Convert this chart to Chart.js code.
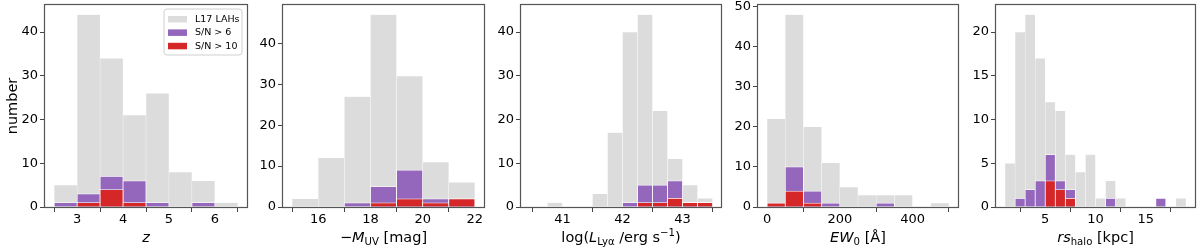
<!DOCTYPE html>
<html>
<head>
<meta charset="utf-8">
<script src="https://cdn.jsdelivr.net/npm/chart.js@4.4.1/dist/chart.umd.min.js"></script>
<style>
  body { margin: 0; background: #fff; }
  #wrap { position: relative; width: 1200px; height: 249px; }
  #wrap canvas { position: absolute; top: 0; }
</style>
</head>
<body>
<div id="wrap"></div>
<script>
// panel 1 : redshift
var zEdges = [2.5, 3, 3.5, 4, 4.5, 5, 5.5, 6, 6.5];
var zAll   = [5, 44, 34, 21, 26, 8, 6, 1];
var zSN6   = [1, 3, 7, 6, 1, 0, 1, 0];
var zSN10  = [0, 1, 4, 1, 0, 0, 0, 0];
var zTicks = [3, 4, 5, 6];

// panel 2 : -M_UV
var muvEdges = [15, 16, 17, 18, 19, 20, 21, 22];
var muvAll   = [2, 12, 27, 47, 32, 11, 6];
var muvSN6   = [0, 0, 1, 5, 9, 2, 2];
var muvSN10  = [0, 0, 0, 1, 2, 1, 2];
var muvTicks = [16, 18, 20, 22];

// panel 3 : log L_Lya
var lyaEdges = [40.75, 41, 41.25, 41.5, 41.75, 42, 42.25, 42.5, 42.75, 43, 43.25, 43.5];
var lyaAll   = [1, 0, 0, 3, 17, 40, 44, 22, 11, 5, 2];
var lyaSN6   = [0, 0, 0, 0, 0, 1, 5, 5, 6, 1, 1];
var lyaSN10  = [0, 0, 0, 0, 0, 0, 1, 1, 2, 1, 1];
var lyaTicks = [41, 42, 43];

// panel 4 : EW0
var ewEdges = [0, 50, 100, 150, 200, 250, 300, 350, 400, 450, 500];
var ewAll   = [22, 48, 20, 11, 5, 3, 3, 3, 0, 1];
var ewSN6   = [1, 10, 4, 1, 0, 0, 1, 0, 0, 0];
var ewSN10  = [1, 4, 1, 0, 0, 0, 0, 0, 0, 0];
var ewTicks = [0, 200, 400];

// panel 5 : rs_halo
var rsEdges = [1, 2, 3, 4, 5, 6, 7, 8, 9, 10, 11, 12, 13, 14, 15, 16, 17, 18, 19];
var rsAll   = [5, 20, 22, 17, 12, 11, 6, 4, 6, 1, 3, 1, 0, 0, 0, 1, 0, 1];
var rsSN6   = [0, 1, 2, 3, 6, 3, 2, 0, 0, 0, 1, 0, 0, 0, 0, 1, 0, 0];
var rsSN10  = [0, 0, 0, 0, 3, 2, 1, 0, 0, 0, 0, 0, 0, 0, 0, 0, 0, 0];
var rsTicks = [5, 10, 15];

var yTicks40 = [0, 10, 20, 30, 40];
var yTicks50 = [0, 10, 20, 30, 40, 50];
var yTicksRs = [0, 5, 10, 15, 20];

var seriesNames = ['L17 LAHs', 'S/N > 6', 'S/N > 10'];
var seriesColors = ['#dcdcdc', '#9467bd', '#d62728'];

var xTitles = [
  [{t: 'z', it: 1}],
  [{t: '\u2212'}, {t: 'M', it: 1}, {t: 'UV', sub: 1}, {t: ' [mag]'}],
  [{t: 'log('}, {t: 'L', it: 1}, {t: 'Ly\u03b1', sub: 1}, {t: ' /erg s'}, {t: '\u22121', sup: 1}, {t: ')'}],
  [{t: 'EW', it: 1}, {t: '0', sub: 1}, {t: ' [\u00c5]'}],
  [{t: 'rs', it: 1}, {t: 'halo', sub: 1}, {t: ' [kpc]'}]
];

var panels = [
  {edges: zEdges,   all: zAll,   sn6: zSN6,   sn10: zSN10,   xt: zTicks,   yt: yTicks40, xmin: 2.3,   xmax: 6.7,   ymax: 46.2,  left: 45,  right: 247},
  {edges: muvEdges, all: muvAll, sn6: muvSN6, sn10: muvSN10, xt: muvTicks, yt: yTicks40, xmin: 14.65, xmax: 22.35, ymax: 49.35, left: 283, right: 484},
  {edges: lyaEdges, all: lyaAll, sn6: lyaSN6, sn10: lyaSN10, xt: lyaTicks, yt: yTicks40, xmin: 40.31, xmax: 43.64, ymax: 46.2,  left: 521, right: 721},
  {edges: ewEdges,  all: ewAll,  sn6: ewSN6,  sn10: ewSN10,  xt: ewTicks,  yt: yTicks50, xmin: -25,   xmax: 525,   ymax: 50.4,  left: 758, right: 958},
  {edges: rsEdges,  all: rsAll,  sn6: rsSN6,  sn10: rsSN10,  xt: rsTicks,  yt: yTicksRs, xmin: 0.1,   xmax: 19.9,  ymax: 23.1,  left: 996, right: 1195}
];

var FONT = 'DejaVu Sans';
var Y_AXIS_W = 45, TOP = 5, BOTTOM = 207, H = 249, PAD_R = 5;

Chart.defaults.font.family = FONT;
Chart.defaults.color = '#000';

function toPoints(edges, counts) {
  return counts.map(function (c, i) {
    return {x: (edges[i] + edges[i + 1]) / 2, y: c};
  });
}

function drawRich(ctx, parts, x0, y, size, center) {
  var fonts = parts.map(function (p) {
    var s = (p.sub || p.sup) ? size * 0.7 : size;
    return (p.it ? 'italic ' : '') + s + 'px "' + FONT + '"';
  });
  var total = 0;
  parts.forEach(function (p, i) {
    ctx.font = fonts[i];
    p.w = ctx.measureText(p.t).width;
    total += p.w;
  });
  var x = center ? x0 - total / 2 : x0;
  parts.forEach(function (p, i) {
    ctx.font = fonts[i];
    var dy = p.sub ? size * 0.22 : (p.sup ? -size * 0.4 : 0);
    ctx.fillText(p.t, x, y + dy);
    x += p.w;
  });
}

var framePlugin = {
  id: 'frame',
  afterDatasetsDraw: function (chart) {
    var a = chart.chartArea, ctx = chart.ctx;
    ctx.save();
    ctx.strokeStyle = '#555';
    ctx.lineWidth = 1.2;
    ctx.strokeRect(a.left - 0.5, a.top - 0.5, a.right - a.left + 1, a.bottom - a.top + 1);
    ctx.restore();
  },
  afterDraw: function (chart) {
    var ctx = chart.ctx, a = chart.chartArea, idx = chart.options.plugins.frame.idx;
    ctx.save();
    ctx.fillStyle = '#000';
    ctx.textBaseline = 'alphabetic';
    ctx.textAlign = 'left';
    drawRich(ctx, xTitles[idx], (a.left + a.right) / 2, 241.5, 14.5, true);

    if (idx === 0) {
      // y title
      ctx.save();
      ctx.translate(17, (a.top + a.bottom) / 2);
      ctx.rotate(-Math.PI / 2);
      ctx.textAlign = 'center';
      ctx.font = '14.5px "' + FONT + '"';
      ctx.fillText('number', 0, 0);
      ctx.restore();

      // legend
      var bx = 164, by = 9, bw = 78, bh = 46, r = 3;
      ctx.beginPath();
      ctx.moveTo(bx + r, by);
      ctx.arcTo(bx + bw, by, bx + bw, by + bh, r);
      ctx.arcTo(bx + bw, by + bh, bx, by + bh, r);
      ctx.arcTo(bx, by + bh, bx, by, r);
      ctx.arcTo(bx, by, bx + bw, by, r);
      ctx.closePath();
      ctx.fillStyle = 'rgba(255,255,255,0.8)';
      ctx.fill();
      ctx.strokeStyle = '#d0d0d0';
      ctx.lineWidth = 1;
      ctx.stroke();

      ctx.font = '9.5px "' + FONT + '"';
      ctx.textBaseline = 'middle';
      seriesNames.forEach(function (name, i) {
        var cy = 19 + i * 13.4;
        ctx.fillStyle = seriesColors[i];
        ctx.fillRect(168, cy - 3, 19, 6.5);
        ctx.fillStyle = '#000';
        ctx.fillText(name, 195, cy + 0.5);
      });
    }
    ctx.restore();
  }
};

var wrap = document.getElementById('wrap');

panels.forEach(function (p, idx) {
  var cv = document.createElement('canvas');
  var w = Y_AXIS_W + (p.right - p.left) + PAD_R;
  cv.width = w;
  cv.height = H;
  cv.style.width = w + 'px';
  cv.style.height = H + 'px';
  cv.style.left = (p.left - Y_AXIS_W) + 'px';
  wrap.appendChild(cv);

  var sets = [p.all, p.sn6, p.sn10].map(function (counts, k) {
    return {
      label: seriesNames[k],
      data: toPoints(p.edges, counts),
      backgroundColor: seriesColors[k],
      borderColor: k === 0 ? 'rgba(255,255,255,0.45)' : '#fff',
      borderWidth: k === 0 ? 0.5 : 0.75,
      order: 3 - k
    };
  });

  new Chart(cv.getContext('2d'), {
    type: 'bar',
    data: {datasets: sets},
    plugins: [framePlugin],
    options: {
      responsive: false,
      animation: false,
      events: [],
      grouped: false,
      barPercentage: 1,
      categoryPercentage: 1,
      layout: {padding: {left: 0, right: PAD_R, top: TOP, bottom: 0}},
      plugins: {
        legend: {display: false},
        tooltip: {enabled: false},
        frame: {idx: idx}
      },
      scales: {
        x: {
          type: 'linear',
          offset: false,
          min: p.xmin,
          max: p.xmax,
          afterBuildTicks: function (s) { s.ticks = p.xt.map(function (v) { return {value: v}; }); },
          afterFit: function (s) { s.height = H - BOTTOM; s.paddingLeft = 0; s.paddingRight = 0; },
          border: {display: false},
          grid: {drawOnChartArea: false, drawTicks: true, tickLength: 5, color: '#444', lineWidth: 1},
          ticks: {autoSkip: false, maxRotation: 0, padding: 0, color: '#000', font: {size: 13}}
        },
        y: {
          min: 0,
          max: p.ymax,
          afterBuildTicks: function (s) { s.ticks = p.yt.map(function (v) { return {value: v}; }); },
          afterFit: function (s) { s.width = Y_AXIS_W; s.paddingTop = 0; s.paddingBottom = 0; },
          border: {display: false},
          grid: {drawOnChartArea: false, drawTicks: true, tickLength: 5, color: '#444', lineWidth: 1},
          ticks: {autoSkip: false, padding: 2, color: '#000', font: {size: 13}}
        }
      }
    }
  });
});
</script>
</body>
</html>
